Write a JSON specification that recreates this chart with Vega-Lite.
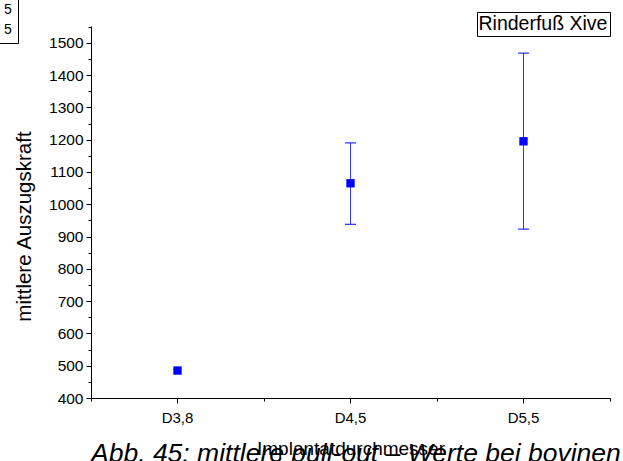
{
  "$schema": "https://vega.github.io/schema/vega-lite/v6.json",
  "width": 519,
  "height": 372,
  "autosize": {"type": "none"},
  "padding": {"left": 91, "top": 26, "right": 13, "bottom": 63},
  "background": "white",
  "config": {
    "view": {"stroke": null},
    "font": "Liberation Sans",
    "axis": {
      "domainColor": "black",
      "tickColor": "black",
      "labelColor": "black",
      "titleColor": "black",
      "labelFont": "Liberation Sans",
      "titleFont": "Liberation Sans",
      "titleFontWeight": "normal",
      "labelFontSize": 15.5,
      "grid": false
    }
  },
  "data": {
    "values": [
      {"dia": "D3,8", "mean": 485, "lower": null, "upper": null, "series": "Rinderfuß Xive"},
      {"dia": "D4,5", "mean": 1065, "lower": 938, "upper": 1190, "series": "Rinderfuß Xive"},
      {"dia": "D5,5", "mean": 1195, "lower": 923, "upper": 1468, "series": "Rinderfuß Xive"}
    ]
  },
  "title": {
    "text": "Abb. 45: mittlere pull-out – Werte bei bovinen",
    "orient": "bottom",
    "anchor": "start",
    "frame": "group",
    "font": "Liberation Sans",
    "fontSize": 26.5,
    "fontStyle": "italic",
    "fontWeight": "normal",
    "color": "black",
    "offset": -17
  },
  "resolve": {"axis": {"x": "independent", "y": "independent"}},
  "layer": [
    {
      "mark": {"type": "rule", "color": "#0000ff", "strokeWidth": 1, "opacity": 0.8},
      "encoding": {
        "x": {
          "field": "dia", "type": "nominal",
          "scale": {"type": "band", "paddingInner": 0, "paddingOuter": 0},
          "axis": {
            "orient": "bottom",
            "labelAngle": 0, "labelFontSize": 15, "labelPadding": 7,
            "tickSize": 5, "title": "Implantatdurchmesser", "titleFontSize": 19, "titlePadding": 14
          }
        },
        "y": {
          "field": "lower", "type": "quantitative",
          "scale": {"domain": [400, 1552], "nice": false, "zero": false},
          "axis": {
            "orient": "left",
            "values": [400, 500, 600, 700, 800, 900, 1000, 1100, 1200, 1300, 1400, 1500],
            "format": "d",
            "labelOverlap": false,
            "tickSize": 5,
            "labelFontSize": 15.5,
            "labelPadding": 3,
            "title": "mittlere Auszugskraft",
            "titleFontSize": 20.5,
            "titlePadding": 14,
            "titleY": 200
          }
        },
        "y2": {"field": "upper"}
      }
    },
    {
      "mark": {"type": "tick", "orient": "horizontal", "color": "#0000ff", "size": 11, "thickness": 1, "opacity": 1},
      "encoding": {
        "x": {"field": "dia", "type": "nominal", "axis": null},
        "y": {"field": "upper", "type": "quantitative", "axis": null}
      }
    },
    {
      "mark": {"type": "tick", "orient": "horizontal", "color": "#0000ff", "size": 11, "thickness": 1, "opacity": 1},
      "encoding": {
        "x": {"field": "dia", "type": "nominal", "axis": null},
        "y": {"field": "lower", "type": "quantitative", "axis": null}
      }
    },
    {
      "mark": {"type": "point", "filled": true, "size": 70, "opacity": 1},
      "encoding": {
        "x": {
          "field": "dia", "type": "nominal",
          "axis": {"orient": "bottom", "tickBand": "extent", "labels": false, "domain": false, "tickSize": 3, "title": null, "grid": false}
        },
        "y": {
          "field": "mean", "type": "quantitative",
          "axis": {
            "orient": "left",
            "values": [450, 550, 650, 750, 850, 950, 1050, 1150, 1250, 1350, 1450, 1550],
            "labels": false, "domain": false, "tickSize": 3, "title": null, "grid": false
          }
        },
        "color": {
          "field": "series", "type": "nominal",
          "scale": {"range": ["#0000ff"]},
          "legend": {
            "orient": "none", "legendX": 386, "legendY": -14,
            "title": null, "symbolSize": 0, "symbolOpacity": 0, "symbolStrokeWidth": 0,
            "labelFontSize": 19.5, "labelColor": "black", "labelFont": "Liberation Sans",
            "labelOffset": -20, "strokeColor": "black", "fillColor": "white", "padding": 2
          }
        },
        "shape": {
          "field": "dia", "type": "nominal",
          "scale": {"range": ["square", "square", "square"]},
          "legend": {
            "orient": "none", "legendX": -92, "legendY": -29,
            "title": null, "values": ["D3,8", "D4,5"], "labelExpr": "'5'",
            "symbolSize": 0, "symbolOpacity": 0, "symbolStrokeWidth": 0,
            "labelFontSize": 14, "labelColor": "black", "labelFont": "Liberation Sans",
            "labelOffset": -15, "rowPadding": 6, "strokeColor": "black", "fillColor": "white", "padding": 6
          }
        }
      }
    }
  ]
}
